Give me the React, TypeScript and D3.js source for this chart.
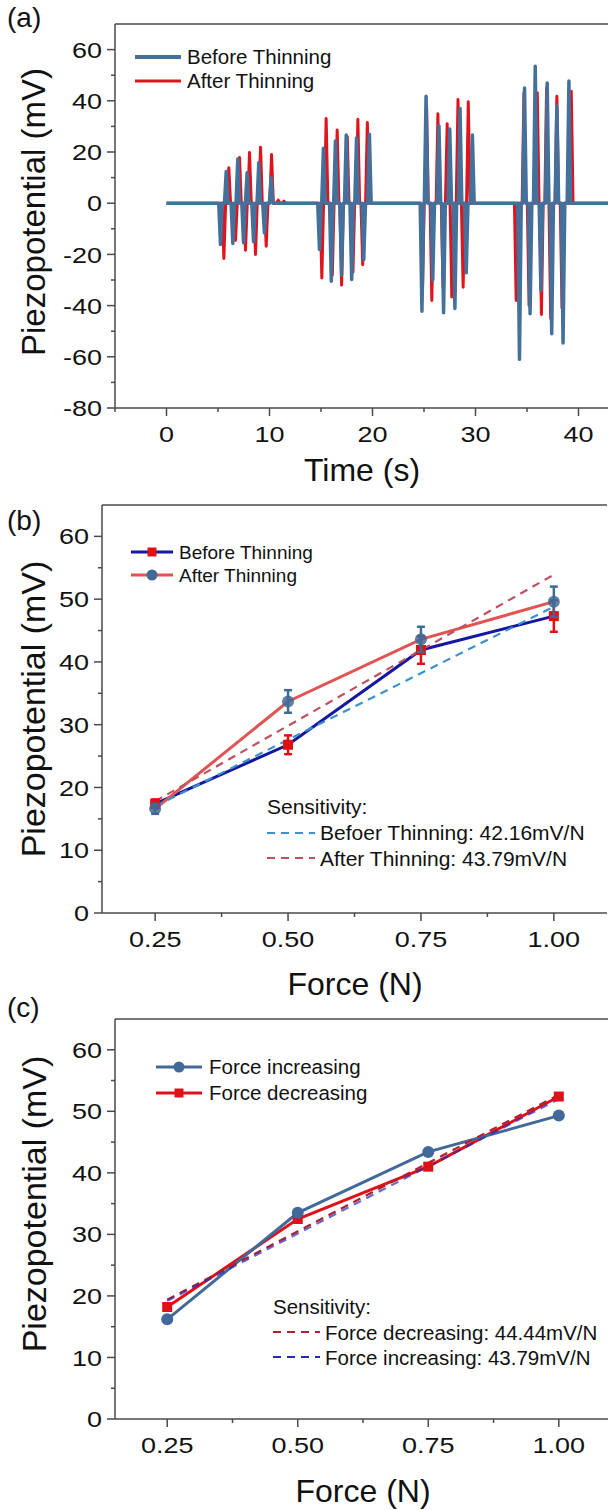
import React from 'react';
import * as d3 from 'd3';

const FONT = "'Liberation Sans', Arial, Helvetica, sans-serif";

// ---------- Panel (a) data ----------
const timeTicks = [0, 10, 20, 30, 40];
const timeMinor = [-5, 5, 15, 25, 35];
const voltTicksA = [-80, -60, -40, -20, 0, 20, 40, 60];
const voltMinorA = [-70, -50, -30, -10, 10, 30, 50];

const beforeSpikeT = [
  5.24, 5.8, 6.44, 6.92, 7.48, 7.83, 8.45, 8.96, 9.51, 10.16,
  14.85, 15.24, 16.0, 16.4, 17.0, 17.45, 17.98, 18.45, 19.15, 19.7,
  24.8, 25.2, 25.85, 26.45, 26.9, 27.5, 28.0, 28.5, 29.1, 29.7,
  34.27, 34.76, 35.3, 35.8, 36.35, 36.96, 37.4, 37.9, 38.5, 39.07,
];
const beforeSpikeV = [
  -16.1, 12.4, -15.7, 17.3, -15.4, 11.9, -15.0, 15.9, -11.6, 9.9,
  -18.1, 21.5, -30.5, 24.3, -28, 26.6, -29.8, 25.5, -22, 26.9,
  -42.2, 41.8, -30, 30.3, -42.8, 29, -41.1, 37, -27.2, 26.6,
  -61, 45, -43.2, 53.5, -34, 47, -51, 38, -54.6, 47.7,
];
const afterSpikeT = [
  5.57, 6.05, 6.7, 7.09, 7.67, 8.06, 8.64, 9.13, 9.68, 10.2, 10.85, 11.4,
  15.08, 15.5, 16.1, 16.57, 17.0, 17.55, 18.1, 18.58, 19.05, 19.5,
  24.85, 25.25, 25.76, 26.35, 26.85, 27.25, 27.7, 28.3, 28.8, 29.3,
  33.95, 34.7, 35.2, 36.0, 36.4, 36.9, 37.3, 37.9, 38.4, 39.3,
];
const afterSpikeV = [
  -21.6, 13.8, -14.5, 17.9, -18.4, 19.8, -20, 21.9, -16.8, 19.0, 1.2, 0.8,
  -29.2, 33.1, -28, 28.6, -32, 26, -27, 32.8, -24, 31.5,
  -35, 38, -38, 34.9, -33, 31, -36.6, 40.5, -32.8, 39.6,
  -38, 43, -40, 43.1, -43.5, 45, -45, 41.8, -40.9, 43.75,
];
const traceStart = 0;
const traceEnd = 44;

// ---------- Panel (b) data ----------
const forceLevels = [0.25, 0.5, 0.75, 1.0];
const forceTicks = [0.25, 0.5, 0.75, 1.0];
const forceMinor = [0.375, 0.625, 0.875];
const voltTicksBC = [0, 10, 20, 30, 40, 50, 60];
const voltMinorBC = [5, 15, 25, 35, 45, 55];

const beforeMean = [17.4, 26.8, 41.9, 47.3];
const beforeErr = [0.7, 1.5, 2.2, 2.5];
const afterMean = [16.6, 33.7, 43.6, 49.6];
const afterErr = [0.8, 1.8, 2.0, 2.4];
const fitForce = [0.25, 1.0];
const fitBefore = [17.0, 48.8];
const fitAfter = [17.8, 53.9];

// ---------- Panel (c) data ----------
const incMean = [16.2, 33.5, 43.4, 49.3];
const decMean = [18.2, 32.5, 41.0, 52.4];
const fitDec = [19.4, 52.7];
const fitInc = [19.2, 52.0];

const AXIS = '#4a4a4a';
const TICKFS = 22.5;
const TICK_STRETCH = 1.2;

function spikePoints(ts: number[], vs: number[], w: number): [number, number][] {
  const pts: [number, number][] = [[traceStart, 0]];
  ts.forEach((t, i) => {
    pts.push([t - w, 0]);
    pts.push([t, vs[i]]);
    pts.push([t + w, 0]);
  });
  pts.push([traceEnd, 0]);
  return pts;
}

type Sc = d3.ScaleLinear<number, number>;

function Frame({ x, y, yTicks, yMinor, xTicks, xMinor, xFmt, yFmt }: {
  x: Sc; y: Sc; yTicks: number[]; yMinor: number[]; xTicks: number[]; xMinor: number[];
  xFmt: (v: number) => string; yFmt: (v: number) => string;
}) {
  const [x0, x1] = x.range();
  const [yb, yt] = y.range();
  return (
    <g>
      <line x1={x0} x2={x1} y1={yt} y2={yt} stroke={AXIS} strokeWidth={1.5} />
      <line x1={x0} x2={x0} y1={yt} y2={yb} stroke={AXIS} strokeWidth={1.5} />
      <line x1={x0} x2={x1} y1={yb} y2={yb} stroke={AXIS} strokeWidth={1.5} />
      {yTicks.map((v) => (
        <g key={'yt' + v}>
          <line x1={x0 - 8} x2={x0} y1={y(v)} y2={y(v)} stroke={AXIS} strokeWidth={1.5} />
          <text transform={`translate(${x0 - 13},${y(v)}) scale(${TICK_STRETCH},1)`} dy="0.36em"
            textAnchor="end" fontSize={TICKFS} fontFamily={FONT} fill="#111">
            {yFmt(v)}
          </text>
        </g>
      ))}
      {yMinor.map((v) => (
        <line key={'ym' + v} x1={x0 - 4} x2={x0} y1={y(v)} y2={y(v)} stroke={AXIS} strokeWidth={1.5} />
      ))}
      {xTicks.map((v) => (
        <g key={'xt' + v}>
          <line x1={x(v)} x2={x(v)} y1={yb} y2={yb + 8} stroke={AXIS} strokeWidth={1.5} />
          <text transform={`translate(${x(v)},${yb + 34}) scale(${TICK_STRETCH},1)`} textAnchor="middle"
            fontSize={TICKFS} fontFamily={FONT} fill="#111">
            {xFmt(v)}
          </text>
        </g>
      ))}
      {xMinor.map((v) => (
        <line key={'xm' + v} x1={x(v)} x2={x(v)} y1={yb} y2={yb + 4} stroke={AXIS} strokeWidth={1.5} />
      ))}
    </g>
  );
}

function Square({ cx, cy, s, fill }: { cx: number; cy: number; s: number; fill: string }) {
  return <rect x={cx - s / 2} y={cy - s / 2} width={s} height={s} fill={fill} />;
}

export default function App() {
  // Panel (a)
  const xa = d3.scaleLinear().domain([-5, 45]).range([115, 630]);
  const ya = d3.scaleLinear().domain([-80, 70]).range([408, 24]);
  const lineA = d3.line<[number, number]>().x((d) => xa(d[0])).y((d) => ya(d[1]));
  const beforePts = spikePoints(beforeSpikeT, beforeSpikeV, 0.17);
  const afterPts = spikePoints(afterSpikeT, afterSpikeV, 0.17);
  const BLUE_A = '#44709c';
  const RED_A = '#e0141c';

  // Panel (b)
  const xb = d3.scaleLinear().domain([0.15, 1.1]).range([102, 607]);
  const yb = d3.scaleLinear().domain([0, 65]).range([913, 505]);
  const lineB = d3.line<number>().x((_, i) => xb(forceLevels[i])).y((d) => yb(d));
  const fitLineB = d3.line<number>().x((_, i) => xb(fitForce[i])).y((d) => yb(d));
  const DARKBLUE = '#1417a0';
  const CORAL = '#e25353';
  const MARK_RED = '#e01010';
  const MARK_BLUE = '#3f6a96';
  const DASH_BLUE = '#3a92cc';
  const DASH_RED = '#c0505e';

  // Panel (c)
  const xc = d3.scaleLinear().domain([0.15, 1.1]).range([115, 611]);
  const yc = d3.scaleLinear().domain([0, 65]).range([1419, 1019]);
  const lineC = d3.line<number>().x((_, i) => xc(forceLevels[i])).y((d) => yc(d));
  const fitLineC = d3.line<number>().x((_, i) => xc(fitForce[i])).y((d) => yc(d));
  const INC = '#41699a';
  const DEC = '#e0101a';
  const DASH_DEC = '#b0202e';
  const DASH_INC = '#2828b8';

  const fmtForce = (v: number) => v.toFixed(2);
  const fmtInt = (v: number) => String(v);

  return (
    <svg width={608} height={1510} style={{ position: 'absolute', left: 0, top: 0, background: '#fff' }}
      fontFamily={FONT}>
      <defs>
        <clipPath id="clipA">
          <rect x={115} y={24} width={500} height={384} />
        </clipPath>
      </defs>
      {/* ================= Panel (a) ================= */}
      <text x={7} y={27} fontSize={28} fill="#111">(a)</text>
      <Frame x={xa} y={ya} yTicks={voltTicksA} yMinor={voltMinorA} xTicks={timeTicks} xMinor={timeMinor}
        xFmt={fmtInt} yFmt={fmtInt} />
      <g clipPath="url(#clipA)">
        <path d={lineA(afterPts) || ''} fill="none" stroke={RED_A} strokeWidth={3} strokeLinejoin="round" />
        <path d={lineA(beforePts) || ''} fill="none" stroke={BLUE_A} strokeWidth={3.5} strokeLinejoin="round" />
      </g>
      <line x1={135} x2={181} y1={57} y2={57} stroke={BLUE_A} strokeWidth={4} />
      <text x={187} y={64} fontSize={20.5} fill="#111">Before Thinning</text>
      <line x1={135} x2={181} y1={81} y2={81} stroke={RED_A} strokeWidth={3} />
      <text x={187} y={88} fontSize={20.5} fill="#111">After Thinning</text>
      <text transform={`translate(45, 212) rotate(-90)`} textAnchor="middle" fontSize={33} fill="#111">
        Piezopotential (mV)
      </text>
      <text x={362} y={481} textAnchor="middle" fontSize={32} fill="#111">Time (s)</text>

      {/* ================= Panel (b) ================= */}
      <text x={7} y={530} fontSize={28} fill="#111">(b)</text>
      <Frame x={xb} y={yb} yTicks={voltTicksBC} yMinor={voltMinorBC} xTicks={forceTicks} xMinor={forceMinor}
        xFmt={fmtForce} yFmt={fmtInt} />
      <path d={lineB(beforeMean) || ''} fill="none" stroke={DARKBLUE} strokeWidth={3} />
      <path d={lineB(afterMean) || ''} fill="none" stroke={CORAL} strokeWidth={3} />
      <path d={fitLineB(fitBefore) || ''} fill="none" stroke={DASH_BLUE} strokeWidth={2.2} strokeDasharray="8,6" />
      <path d={fitLineB(fitAfter) || ''} fill="none" stroke={DASH_RED} strokeWidth={2.2} strokeDasharray="8,6" />
      {forceLevels.map((f, i) => (
        <g key={'be' + i}>
          <line x1={xb(f)} x2={xb(f)} y1={yb(beforeMean[i] - beforeErr[i])} y2={yb(beforeMean[i] + beforeErr[i])}
            stroke={MARK_RED} strokeWidth={2.5} />
          <line x1={xb(f) - 4} x2={xb(f) + 4} y1={yb(beforeMean[i] - beforeErr[i])} y2={yb(beforeMean[i] - beforeErr[i])}
            stroke={MARK_RED} strokeWidth={2.5} />
          <line x1={xb(f) - 4} x2={xb(f) + 4} y1={yb(beforeMean[i] + beforeErr[i])} y2={yb(beforeMean[i] + beforeErr[i])}
            stroke={MARK_RED} strokeWidth={2.5} />
          <Square cx={xb(f)} cy={yb(beforeMean[i])} s={10} fill={MARK_RED} />
        </g>
      ))}
      {forceLevels.map((f, i) => (
        <g key={'ae' + i}>
          <line x1={xb(f)} x2={xb(f)} y1={yb(afterMean[i] - afterErr[i])} y2={yb(afterMean[i] + afterErr[i])}
            stroke={MARK_BLUE} strokeWidth={2.5} />
          <line x1={xb(f) - 4} x2={xb(f) + 4} y1={yb(afterMean[i] - afterErr[i])} y2={yb(afterMean[i] - afterErr[i])}
            stroke={MARK_BLUE} strokeWidth={2.5} />
          <line x1={xb(f) - 4} x2={xb(f) + 4} y1={yb(afterMean[i] + afterErr[i])} y2={yb(afterMean[i] + afterErr[i])}
            stroke={MARK_BLUE} strokeWidth={2.5} />
          <circle cx={xb(f)} cy={yb(afterMean[i])} r={6} fill={MARK_BLUE} fillOpacity={0.85} />
        </g>
      ))}
      {/* legend b */}
      <line x1={131} x2={173} y1={552} y2={552} stroke={DARKBLUE} strokeWidth={3} />
      <Square cx={152} cy={552} s={9} fill={MARK_RED} />
      <text x={179} y={559} fontSize={19} fill="#111">Before Thinning</text>
      <line x1={131} x2={173} y1={575} y2={575} stroke={CORAL} strokeWidth={3} />
      <circle cx={152} cy={575} r={5.5} fill={MARK_BLUE} />
      <text x={179} y={582} fontSize={19} fill="#111">After Thinning</text>
      <text x={267} y={814} fontSize={21} fill="#111">Sensitivity:</text>
      <line x1={267} x2={315} y1={833} y2={833} stroke={DASH_BLUE} strokeWidth={2.2} strokeDasharray="8,6" />
      <text x={320} y={840} fontSize={21} fill="#111">Befoer Thinning: 42.16mV/N</text>
      <line x1={267} x2={315} y1={858} y2={858} stroke={DASH_RED} strokeWidth={2.2} strokeDasharray="8,6" />
      <text x={320} y={866} fontSize={21} fill="#111">After Thinning: 43.79mV/N</text>
      <text transform={`translate(45, 709) rotate(-90)`} textAnchor="middle" fontSize={34} fill="#111">
        Piezopotential (mV)
      </text>
      <text x={355} y={995} textAnchor="middle" fontSize={32} fill="#111">Force (N)</text>

      {/* ================= Panel (c) ================= */}
      <text x={7} y={1017} fontSize={28} fill="#111">(c)</text>
      <Frame x={xc} y={yc} yTicks={voltTicksBC} yMinor={voltMinorBC} xTicks={forceTicks} xMinor={forceMinor}
        xFmt={fmtForce} yFmt={fmtInt} />
      <path d={lineC(decMean) || ''} fill="none" stroke={DEC} strokeWidth={3} />
      <path d={lineC(incMean) || ''} fill="none" stroke={INC} strokeWidth={3} />
      <path d={fitLineC(fitDec) || ''} fill="none" stroke={DASH_DEC} strokeWidth={2.2} strokeDasharray="8,6" />
      <path d={fitLineC(fitInc) || ''} fill="none" stroke={DASH_INC} strokeWidth={2.2} strokeDasharray="8,6" opacity={0.7} />
      {forceLevels.map((f, i) => (
        <Square key={'dm' + i} cx={xc(f)} cy={yc(decMean[i])} s={10} fill={DEC} />
      ))}
      {forceLevels.map((f, i) => (
        <circle key={'im' + i} cx={xc(f)} cy={yc(incMean[i])} r={6} fill={INC} />
      ))}
      {/* legend c */}
      <line x1={156} x2={202} y1={1067} y2={1067} stroke={INC} strokeWidth={3} />
      <circle cx={179} cy={1067} r={5.5} fill={INC} />
      <text x={209} y={1074} fontSize={20.5} fill="#111">Force increasing</text>
      <line x1={156} x2={202} y1={1093} y2={1093} stroke={DEC} strokeWidth={3} />
      <Square cx={179} cy={1093} s={9} fill={DEC} />
      <text x={209} y={1100} fontSize={20.5} fill="#111">Force decreasing</text>
      <text x={273} y={1314} fontSize={20.5} fill="#111">Sensitivity:</text>
      <line x1={273} x2={320} y1={1332} y2={1332} stroke={DASH_DEC} strokeWidth={2.2} strokeDasharray="8,6" />
      <text x={325} y={1340} fontSize={20.5} fill="#111">Force decreasing: 44.44mV/N</text>
      <line x1={273} x2={320} y1={1357} y2={1357} stroke={DASH_INC} strokeWidth={2.2} strokeDasharray="8,6" />
      <text x={325} y={1365} fontSize={20.5} fill="#111">Force increasing: 43.79mV/N</text>
      <text transform={`translate(46, 1204) rotate(-90)`} textAnchor="middle" fontSize={34} fill="#111">
        Piezopotential (mV)
      </text>
      <text x={363} y={1502} textAnchor="middle" fontSize={32} fill="#111">Force (N)</text>
    </svg>
  );
}
